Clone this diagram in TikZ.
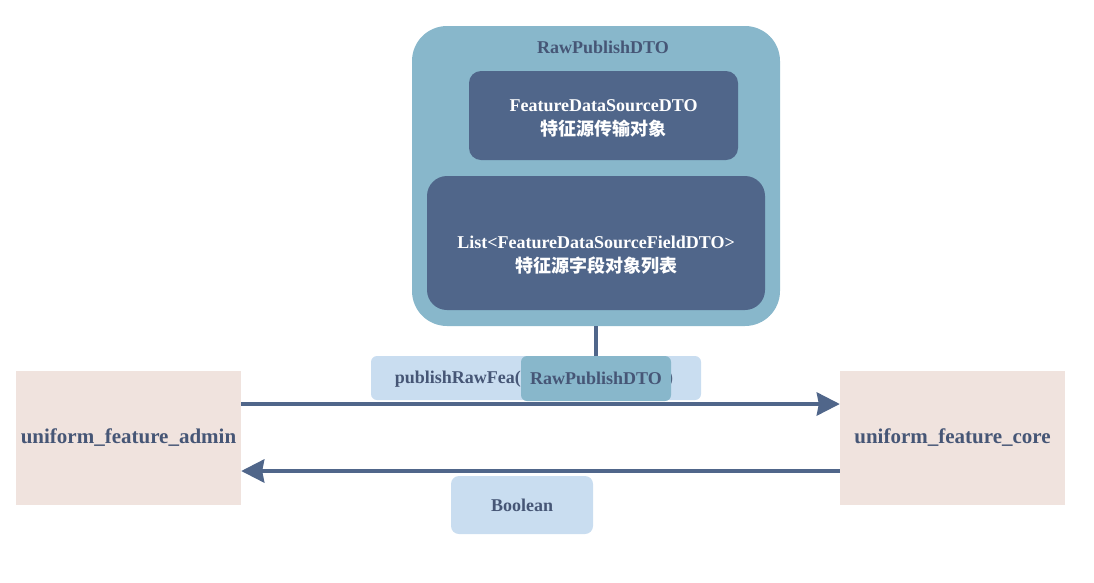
\documentclass[tikz,border=0pt]{standalone}
\usepackage{fontspec}
\setmainfont{Liberation Serif}
\newfontfamily\cjk{Noto Sans CJK SC}
\usetikzlibrary{arrows.meta}
\definecolor{outerblue}{HTML}{88B7CB}
\definecolor{darkblue}{HTML}{50668A}
\definecolor{lightblue}{HTML}{C9DDF0}
\definecolor{pinkbg}{HTML}{F0E3DE}
\definecolor{txt}{HTML}{465676}
\tikzset{
  box/.style={draw=none, inner sep=0pt, align=center},
  lbl/.style={font=\fontsize{18}{21}\selectfont\bfseries, text=txt, inner sep=0pt},
  dto/.style={box, fill=darkblue},
  dtotxt/.style={align=center, inner sep=0pt, text=white, font=\fontsize{18}{24}\selectfont\bfseries},
  arr/.style={line width=4pt, draw=darkblue, -{Stealth[length=23pt,width=23pt,inset=2pt]}},
}
\begin{document}
\begin{tikzpicture}[x=1pt,y=-1pt]
\useasboundingbox (0,0) rectangle (1094,582);
% outer DTO box
\node[box, fill=outerblue, rounded corners=35pt, minimum width=368pt, minimum height=300pt] (outer) at (596,176) {};
\node[lbl] (title) at (603,47) {RawPublishDTO};
\node[dto, rounded corners=12pt, minimum width=269pt, minimum height=89pt] (in1) at (603.5,115.5) {};
\node[dtotxt] (in1T) at (603.5,118) {FeatureDataSourceDTO\\ \cjk\bfseries 特征源传输对象};
\node[dto, rounded corners=20pt, minimum width=338pt, minimum height=134pt] (in2) at (596,243) {};
\node[dtotxt] (in2T) at (596,255) {List<FeatureDataSourceFieldDTO>\\ \cjk\bfseries 特征源字段对象列表};
% call label
\node[box, fill=lightblue, rounded corners=6pt, minimum width=330pt, minimum height=44pt] (call) at (536,378) {};
\node[lbl, anchor=east] (callL) at (521,379) {publishRawFea(};
\node[lbl, anchor=west] (callR) at (667,379) {)};
\node[box, fill=outerblue, rounded corners=6pt, minimum width=150pt, minimum height=45pt] (param) at (596,378.5) {};
\node[lbl] (paramT) at (param) {RawPublishDTO};
\draw[line width=4pt, draw=darkblue] (outer.south) -- (param.north);
% systems
\node[box, fill=pinkbg, minimum width=225pt, minimum height=134pt] (admin) at (128.5,438) {};
\node[lbl, font=\fontsize{21}{24}\selectfont\bfseries] (adminT) at (admin) {uniform\_feature\_admin};
\node[box, fill=pinkbg, minimum width=225pt, minimum height=134pt] (core) at (952.5,438) {};
\node[lbl, font=\fontsize{21}{24}\selectfont\bfseries] (coreT) at (core) {uniform\_feature\_core};
% arrows
\draw[arr] ([yshift=34pt]admin.east) -- ([yshift=34pt]core.west);
\draw[arr] ([yshift=-33pt]core.west) -- ([yshift=-33pt]admin.east);
% return label
\node[box, fill=lightblue, rounded corners=8pt, minimum width=142pt, minimum height=58pt] (ret) at (522,505) {};
\node[lbl] (retT) at (ret) {Boolean};
\end{tikzpicture}
\end{document}
